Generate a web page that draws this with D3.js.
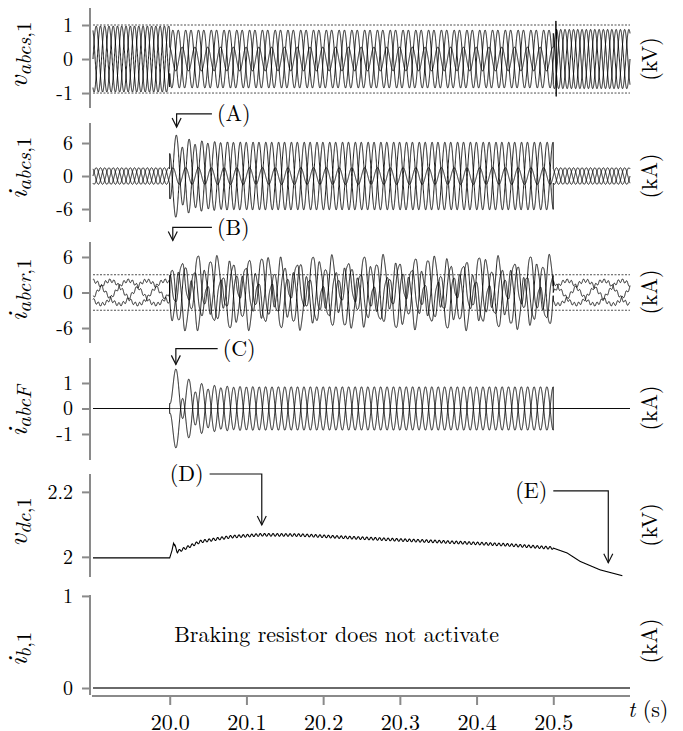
<!DOCTYPE html>
<html>
<head>
<meta charset="utf-8">
<script src="https://cdn.jsdelivr.net/npm/d3@7/dist/d3.min.js"></script>
<style>
  body { margin: 0; background: #fff; }
  svg { display: block; }
</style>
</head>
<body>
<div id="chart"></div>
<script>
// ---- time frame ----
const tRange = [19.9, 20.6];
const tFault = 20.0;
const tClear = 20.5;
const fGrid = 60;
const xTicks = [20.0, 20.1, 20.2, 20.3, 20.4, 20.5];

// ---- panels (top to bottom) ----
const panelSymbols = ["v", "i", "i", "i", "v", "i"];
const panelSubs = ["abcs", "abcs", "abcr", "abcF", "dc", "b"];
const panelSubNums = [",1", ",1", ",1", "", ",1", ",1"];
const panelUnits = ["(kV)", "(kA)", "(kA)", "(kA)", "(kV)", "(kA)"];
const panelTicks = [[-1, 0, 1], [-6, 0, 6], [-6, 0, 6], [-1, 0, 1], [2, 2.2], [0, 1]];
const panelDomains = [[-1.44, 1.5], [-8.36, 9.64], [-8.53, 8.53], [-2.02, 1.98], [1.938, 2.255], [-0.076, 1.01]];
const panelLimits = [[-1, 1], [], [-3, 3], [], [], []];

// ---- stator voltage (kV), per phase a,b,c ----
const vsAmpPre = [0.97, 0.97, 0.97];
const vsAmpFault = [0.85, 0.85, 0.35];
const vsPhaseFault = [0, -150, 100];     // degrees
const vsAmpPost = [0.87, 0.87, 0.87];
const vsSpike = [[20.5034, 1.12], [20.5038, -1.1], [20.5042, 0.6]];

// ---- stator current (kA) ----
const isAmp = [1.5, 1.5, 1.5];
const isFault = { amp: 4.8, dc: 2.0, tau: 0.02, phase: -90 };

// ---- rotor current (kA) ----
const irSlip = { amp: 2.0, freq: 14 };
const irRipple = { amp: 0.3, freq: 180 };
const irFaultAmp = [3.0, 4.3, 4.3];
const irFaultPhase = [105, 15, 195];     // degrees
const irFaultDc = [0, 2.0, -2.0];
const irFaultTau = 0.02;

// ---- fault current (kA) ----
const iF = { amp: 0.85, dc: 1.05, tau: 0.02, phase: -90 };

// ---- dc link voltage (kV) ----
const vdcT = [19.9, 20.0, 20.003, 20.005, 20.01, 20.04, 20.08, 20.12, 20.17, 20.22, 20.30, 20.35, 20.44, 20.5, 20.518, 20.535, 20.561, 20.59];
const vdcV = [1.997, 1.997, 2.02, 2.042, 2.016, 2.047, 2.062, 2.068, 2.067, 2.061, 2.052, 2.047, 2.037, 2.027, 2.012, 1.986, 1.96, 1.942];
const vdcRipple = { amp: 0.004, freq: 180 };

// ---- braking resistor current (kA) ----
const ibT = [19.9, 20.6];
const ibV = [0, 0];

// ---- annotations ----
const annotations = [
  { panel: 1, label: "(A)", t: 20.009, v: 8.9, tText: 20.055, vText: 11.3, side: "right" },
  { panel: 2, label: "(B)", t: 20.004, v: 8.8, tText: 20.055, vText: 11.0, side: "right" },
  { panel: 3, label: "(C)", t: 20.008, v: 1.73, tText: 20.0625, vText: 2.35, side: "right" },
  { panel: 4, label: "(D)", t: 20.12, v: 2.098, tText: 20.052, vText: 2.255, side: "left" },
  { panel: 4, label: "(E)", t: 20.5717, v: 1.982, tText: 20.5, vText: 2.203, side: "left" }
];

// ---------------------------------------------------------------
const width = 683, height = 731;
const font = '"Latin Modern Roman", "Liberation Serif", serif';
const panelTop = [8, 123, 242, 358, 474, 595];
const panelBottom = [108, 222, 343, 460, 577, 695];
const labelY = [55, 168, 290, 411, 522, 649];
const unitY = [59, 176, 292, 408, 525, 641];
const axisColor = "#8a8a8a";

const x = d3.scaleLinear().domain(tRange).range([93, 630]);
const ys = panelDomains.map((d, i) => d3.scaleLinear().domain(d).range([panelBottom[i], panelTop[i]]));

const svg = d3.select("#chart").append("svg")
  .attr("width", width)
  .attr("height", height);

const w = 2 * Math.PI * fGrid;
const shift = [0, -2 * Math.PI / 3, 2 * Math.PI / 3];
const rad = deg => deg * Math.PI / 180;
const dt = 0.0001;
const times = d3.range(0, Math.round((tRange[1] - tRange[0]) / dt) + 1).map(k => tRange[0] + k * dt);

function faultComp(p, tau) {
  return p.dc * Math.exp(-tau / p.tau) + p.amp * Math.sin(w * tau + rad(p.phase));
}
const inFault = t => t >= tFault && t < tClear;
const sgn = [0, 1, -1];

// build phase series
const vs = [0, 1, 2].map(k => times.map(t => {
  const tau = t - tFault;
  let v;
  if (t < tFault) v = vsAmpPre[k] * Math.sin(w * tau + shift[k]);
  else if (t < tClear) v = vsAmpFault[k] * Math.sin(w * tau + rad(vsPhaseFault[k]));
  else v = vsAmpPost[k] * Math.sin(w * tau + shift[k]);
  return [t, v];
}));
vs[0] = vs[0].concat(vsSpike).sort((a, b) => a[0] - b[0]);

const is = [0, 1, 2].map(k => times.map(t => {
  const tau = t - tFault;
  let v = isAmp[k] * Math.sin(w * tau + shift[k]);
  if (inFault(t)) v += sgn[k] * faultComp(isFault, tau);
  return [t, v];
}));

const ir = [0, 1, 2].map(k => times.map(t => {
  const tau = t - tFault;
  let v = irSlip.amp * Math.sin(2 * Math.PI * irSlip.freq * tau + shift[k])
        + irRipple.amp * Math.sin(2 * Math.PI * irRipple.freq * tau + 3 * shift[k] + k);
  if (inFault(t)) {
    v += irFaultDc[k] * Math.exp(-tau / irFaultTau) + irFaultAmp[k] * Math.sin(w * tau + rad(irFaultPhase[k]));
  }
  return [t, v];
}));

const iabcF = [0, 1, 2].map(k => times.map(t => {
  const tau = t - tFault;
  const v = inFault(t) ? sgn[k] * faultComp(iF, tau) : 0;
  return [t, v];
}));

const vdcBase = d3.scaleLinear().domain(vdcT).range(vdcV).clamp(true);
const vdc = [times.filter(t => t <= vdcT[vdcT.length - 1]).map(t => {
  let v = vdcBase(t);
  if (t > tFault + 0.006 && t < tClear) v += vdcRipple.amp * Math.sin(2 * Math.PI * vdcRipple.freq * (t - tFault));
  return [t, v];
})];

const ib = [ibT.map((t, i) => [t, ibV[i]])];

const series = [vs, is, ir, iabcF, vdc, ib];

// ---- draw panels ----
series.forEach((phases, p) => {
  const y = ys[p];
  const g = svg.append("g");

  // dotted limits
  panelLimits[p].forEach(lv => {
    g.append("line")
      .attr("x1", x(tRange[0])).attr("x2", x(tRange[1]))
      .attr("y1", y(lv)).attr("y2", y(lv))
      .attr("stroke", "#222").attr("stroke-width", 0.8)
      .attr("stroke-dasharray", "2,1.5");
  });

  const line = d3.line().x(d => x(d[0])).y(d => y(d[1]));
  phases.forEach(data => {
    g.append("path")
      .attr("d", line(data))
      .attr("fill", "none")
      .attr("stroke", p === 5 ? "#6a6a6a" : "#000")
      .attr("stroke-width", p === 5 ? 2 : (p === 4 ? 1.1 : 0.9));
  });

  // y axis
  const yAxis = d3.axisLeft(y).tickValues(panelTicks[p]).tickSize(8).tickPadding(9)
    .tickFormat(d => d);
  const ag = svg.append("g").attr("transform", `translate(90,0)`).call(yAxis);
  ag.select(".domain").attr("d", `M0,${panelTop[p]}V${panelBottom[p]}`);
  ag.selectAll(".domain, .tick line").attr("stroke", axisColor).attr("stroke-width", 2);
  ag.selectAll(".tick text").style("font-family", font).style("font-size", "20px").attr("fill", "#000");

  // y label
  const lab = svg.append("text")
    .attr("transform", `translate(27,${labelY[p]}) rotate(-90)`)
    .attr("text-anchor", "middle")
    .style("font-family", font);
  lab.append("tspan").style("font-size", "28px").style("font-style", "italic").text(panelSymbols[p]);
  const sub = lab.append("tspan").style("font-size", "21px").attr("dy", 4);
  sub.append("tspan").style("font-style", "italic").text(panelSubs[p]);
  if (panelSubNums[p]) sub.append("tspan").text(panelSubNums[p]);

  // unit label
  svg.append("text")
    .attr("transform", `translate(657,${unitY[p]}) rotate(-90)`)
    .attr("text-anchor", "middle")
    .style("font-family", font)
    .style("font-size", "22px")
    .text(panelUnits[p]);
});

// ---- x axis ----
const xAxis = d3.axisBottom(x).tickValues(xTicks).tickSize(9).tickPadding(9)
  .tickFormat(d3.format(".1f"));
const xg = svg.append("g").attr("transform", "translate(0,696)").call(xAxis);
xg.select(".domain").attr("d", `M${x(tRange[0]) - 1},0H${x(tRange[1])}`);
xg.selectAll(".domain, .tick line").attr("stroke", axisColor).attr("stroke-width", 2);
xg.selectAll(".tick text").style("font-family", font).style("font-size", "22px").attr("fill", "#000");

const tl = svg.append("text").attr("x", 628).attr("y", 717)
  .style("font-family", font).style("font-size", "22px");
tl.append("tspan").style("font-style", "italic").text("t");
tl.append("tspan").text(" (s)");

// ---- braking resistor note ----
svg.append("text")
  .attr("x", x(20.2175))
  .attr("y", ys[5](0.5))
  .attr("text-anchor", "middle")
  .style("font-family", font)
  .style("font-size", "22px")
  .text("Braking resistor does not activate");

// ---- annotations ----
annotations.forEach(a => {
  const y = ys[a.panel];
  const x0 = x(a.t), y0 = y(a.v), x1 = x(a.tText), y1 = y(a.vText);
  const g = svg.append("g").attr("stroke", "#111").attr("stroke-width", 1.2).attr("fill", "none");
  g.append("path").attr("d", `M${x1},${y1}H${x0}V${y0}`);
  g.append("path").attr("d", `M${x0 - 4.5},${y0 - 9}L${x0},${y0}L${x0 + 4.5},${y0 - 9}`);
  svg.append("text")
    .attr("x", a.side === "right" ? x1 + 5 : x1 - 6)
    .attr("y", y1)
    .attr("dy", "0.33em")
    .attr("text-anchor", a.side === "right" ? "start" : "end")
    .style("font-family", font)
    .style("font-size", "22px")
    .text(a.label);
});
</script>
</body>
</html>
